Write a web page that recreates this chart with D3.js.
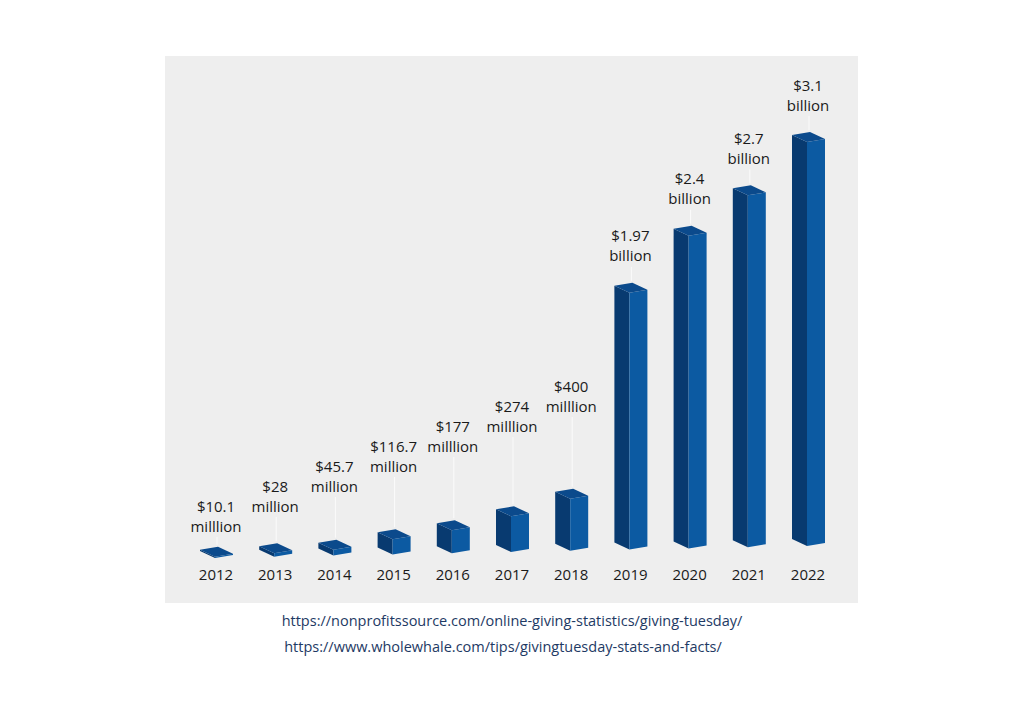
<!DOCTYPE html>
<html>
<head>
<meta charset="utf-8">
<script src="https://cdn.jsdelivr.net/npm/d3@7"></script>
<style>
  html, body { margin: 0; padding: 0; background: #ffffff; }
  svg { display: block; }
  text { font-family: "Open Sans", "Noto Sans", sans-serif; }
</style>
</head>
<body>
<svg id="chart" width="1024" height="712"></svg>
<script>
// ---- data ----
const years = ["2012","2013","2014","2015","2016","2017","2018","2019","2020","2021","2022"];
const valuesMillions = [10.1, 28, 45.7, 116.7, 177, 274, 400, 1970, 2400, 2700, 3100];
const valueLabels = ["$10.1","$28","$45.7","$116.7","$177","$274","$400","$1.97","$2.4","$2.7","$3.1"];
const unitLabels = ["milllion","million","million","million","milllion","milllion","milllion","billion","billion","billion","billion"];
const sources = [
  "https://nonprofitssource.com/online-giving-statistics/giving-tuesday/",
  "https://www.wholewhale.com/tips/givingtuesday-stats-and-facts/"
];

// ---- layout ----
const svg = d3.select("#chart");
const panel = { x: 165, y: 56, w: 693, h: 547 };
svg.append("rect")
  .attr("x", panel.x).attr("y", panel.y)
  .attr("width", panel.w).attr("height", panel.h)
  .attr("fill", "#eeeeee");

const x = d3.scalePoint().domain(years).range([216, 808]);
const hScale = d3.scaleLinear().domain([0, 3100]).range([0, 404]);

const colFront = "#0c5aa2", colLeft = "#083a70", colTop = "#0b4a8c";

const data = years.map((yr, i) => ({ yr, i, v: valuesMillions[i], vl: valueLabels[i], ul: unitLabels[i] }));

const g = svg.append("g");

data.forEach(d => {
  const c = x(d.yr);
  const b = 558 - 1.2 * d.i;        // front-bottom corner
  const t = b - hScale(d.v);        // front-top corner
  const L = c - 16, F = c - 1, R = c + 17;
  const dl = 7, dr = 3;
  const bg = g.append("g");
  bg.append("polygon")
    .attr("points", [[L, t - dl], [F, t], [F, b], [L, b - dl]].map(p => p.join(",")).join(" "))
    .attr("fill", colLeft);
  bg.append("polygon")
    .attr("points", [[F, t], [R, t - dr], [R, b - dr], [F, b]].map(p => p.join(",")).join(" "))
    .attr("fill", colFront);
  bg.append("polygon")
    .attr("points", [[L, t - dl], [L + (R - F), t - dl - dr], [R, t - dr], [F, t]].map(p => p.join(",")).join(" "))
    .attr("fill", colTop);

  const y1 = d.v < 1000 ? 506 - 20 * d.i : t - 57;
  const y2 = y1 + 20;
  const lineTop = y2 + 11;
  const lineBot = t - dl - dr - 2;
  if (lineBot - lineTop > 4) {
    g.append("line")
      .attr("x1", c + 1).attr("x2", c + 1)
      .attr("y1", lineTop).attr("y2", lineBot)
      .attr("stroke", "#ffffff").attr("stroke-width", 1).attr("stroke-opacity", 0.75);
  }
  g.append("text").attr("x", c).attr("y", y1 + 5.5)
    .attr("text-anchor", "middle").attr("font-size", 15).attr("fill", "#1a1a1a")
    .text(d.vl);
  g.append("text").attr("x", c).attr("y", y2 + 5.5)
    .attr("text-anchor", "middle").attr("font-size", 15).attr("fill", "#1a1a1a")
    .text(d.ul);

  g.append("text").attr("x", c).attr("y", 579.5)
    .attr("text-anchor", "middle").attr("font-size", 15).attr("fill", "#1a1a1a")
    .text(d.yr);
});

svg.selectAll("text.src").data(sources).enter().append("text")
  .attr("class", "src")
  .attr("x", (d, i) => i === 0 ? 512 : 503)
  .attr("y", (d, i) => 626 + i * 26)
  .attr("text-anchor", "middle")
  .attr("font-size", 14.5)
  .attr("fill", "#1e3a64")
  .text(d => d);
</script>
</body>
</html>
